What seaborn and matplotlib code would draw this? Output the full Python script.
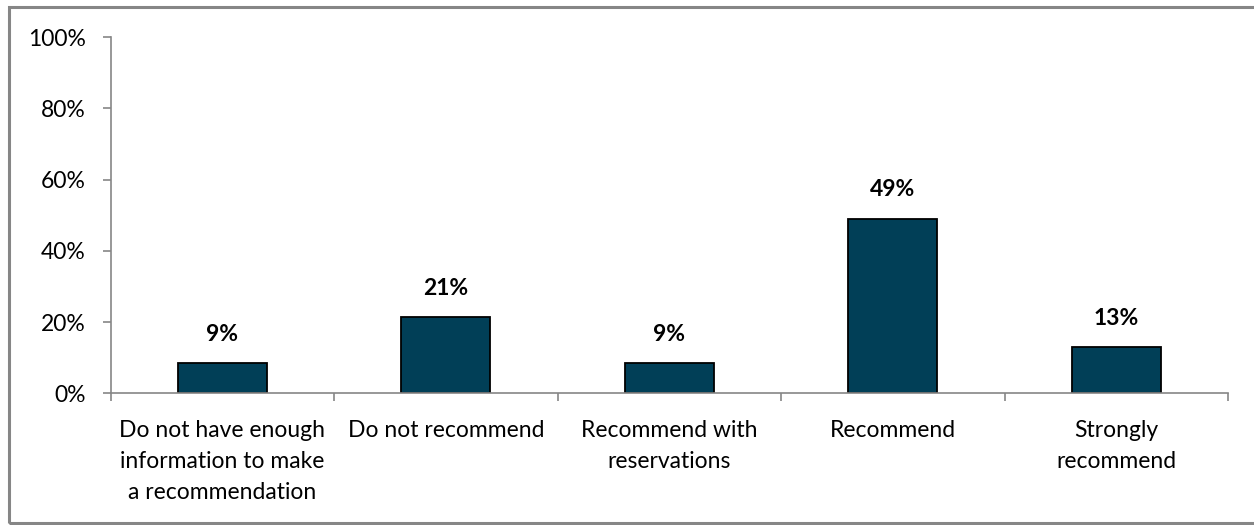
import matplotlib
matplotlib.use("Agg")
import matplotlib.pyplot as plt
from matplotlib.patches import Rectangle
import seaborn as sns
import pandas as pd

# Survey responses: share of respondents per recommendation level (%)
categories = [
    "Do not have enough\ninformation to make\na recommendation",
    "Do not recommend",
    "Recommend with\nreservations",
    "Recommend",
    "Strongly\nrecommend",
]
shares = [8.6, 21.3, 8.6, 49.1, 12.9]
y_ticks = [0, 20, 40, 60, 80, 100]
y_tick_labels = ["0%", "20%", "40%", "60%", "80%", "100%"]

bar_color = "#013F57"
axis_gray = "#868686"

sns.set_theme(style="white")
plt.rcParams["font.family"] = ["Lato", "DejaVu Sans"]

df = pd.DataFrame({"category": categories, "share": shares})

fig = plt.figure(figsize=(12.54, 5.25), dpi=100)
ax = fig.add_axes([110.5 / 1254, 1 - 393.3 / 525, (1228 - 110.5) / 1254, (393.3 - 37.3) / 525])

sns.barplot(data=df, x="category", y="share", color=bar_color, width=0.4,
            edgecolor="black", linewidth=1.3, saturation=1, ax=ax)

ax.set_xlim(-0.5, len(categories) - 0.5)
ax.set_ylim(0, 100)
ax.set_xlabel("")
ax.set_ylabel("")

# value labels above each bar
for i, v in enumerate(shares):
    ax.annotate(f"{round(v)}%", xy=(i, v), xytext=(0, 13), textcoords="offset points",
                ha="center", va="bottom", fontsize=16.5, fontweight="bold", color="black")

# y axis
ax.set_yticks(y_ticks)
ax.set_yticklabels(y_tick_labels, fontsize=16.5, color="black")
ax.tick_params(axis="y", which="major", direction="out", length=5.8, width=1.2,
               color=axis_gray, left=True, pad=12)

# x axis: labels at category centres, tick marks at category boundaries
ax.set_xticks(range(len(categories)))
ax.set_xticklabels(categories, fontsize=16.5, color="black", linespacing=1.6)
ax.tick_params(axis="x", which="major", length=0, pad=19)
ax.set_xticks([i - 0.5 for i in range(len(categories) + 1)], minor=True)
ax.tick_params(axis="x", which="minor", direction="out", length=5.8, width=1.2,
               color=axis_gray, bottom=True)

for side in ("top", "right"):
    ax.spines[side].set_visible(False)
for side in ("left", "bottom"):
    ax.spines[side].set_color(axis_gray)
    ax.spines[side].set_linewidth(1.2)

# outer chart frame (right edge runs past the canvas)
frame_left, frame_top, frame_bottom = 8.5, 6.5, 523.0
fig.patches.append(Rectangle((frame_left / 1254, 1 - frame_bottom / 525), 1.1,
                             (frame_bottom - frame_top) / 525,
                             transform=fig.transFigure, fill=False,
                             edgecolor=axis_gray, linewidth=2.2, clip_on=False))

fig.savefig("out.png", dpi=100, facecolor="white")
